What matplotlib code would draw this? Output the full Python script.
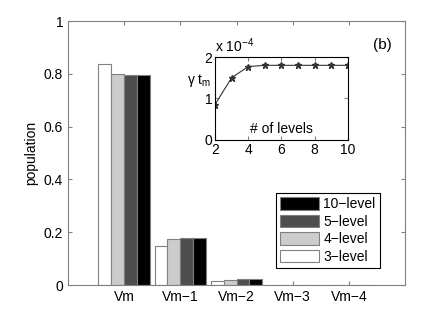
import matplotlib
matplotlib.use("Agg")
import matplotlib.pyplot as plt
import numpy as np

plt.rcParams['font.family'] = ['Liberation Sans', 'DejaVu Sans']
plt.rcParams['mathtext.fontset'] = 'custom'
plt.rcParams['mathtext.rm'] = 'Liberation Sans'
plt.rcParams['mathtext.it'] = 'Liberation Sans'

categories = ['Vm', 'Vm\u22121', 'Vm\u22122', 'Vm\u22123', 'Vm\u22124']
series_names = ['3-level', '4-level', '5-level', '10-level']
pop_3 = [0.836, 0.148, 0.015, 0.001, 0.0]
pop_4 = [0.800, 0.175, 0.020, 0.002, 0.0]
pop_5 = [0.797, 0.178, 0.022, 0.002, 0.0]
pop_10 = [0.797, 0.178, 0.022, 0.002, 0.0]
series_colors = ['white', '#cccccc', '#4d4d4d', 'black']

inset_levels = [2, 3, 4, 5, 6, 7, 8, 9, 10]
inset_gamma_tm = [0.85, 1.50, 1.77, 1.80, 1.80, 1.80, 1.80, 1.80, 1.80]

fig = plt.figure(figsize=(4.36, 3.24), dpi=100)
ax = fig.add_axes([0.156, 0.120, 0.773, 0.815])

x = np.arange(1, len(categories) + 1)
bw = 0.23
data = [pop_3, pop_4, pop_5, pop_10]
bars = []
for i, (vals, col, name) in enumerate(zip(data, series_colors, series_names)):
    b = ax.bar(x + (i - 1.5) * bw, vals, width=bw, color=col,
               edgecolor='#808080', linewidth=0.8, label=name)
    bars.append(b)

ax.set_xlim(0, 6)
ax.set_ylim(0, 1)
ax.set_xticks(x)
ax.set_xticklabels(categories)
ax.set_yticks([0, 0.2, 0.4, 0.6, 0.8, 1])
ax.set_yticklabels(['0', '0.2', '0.4', '0.6', '0.8', '1'])
ax.set_ylabel('population', fontsize=10)
ax.tick_params(direction='in', top=True, right=True, labelsize=10, length=3,
               color='#808080')
for s in ax.spines.values():
    s.set_color('#808080')

handles = [bars[3], bars[2], bars[1], bars[0]]
labels = ['10\u2212level', '5\u2212level', '4\u2212level', '3\u2212level']
leg = ax.legend(handles, labels, loc='lower right',
                bbox_to_anchor=(0.925, 0.065), fontsize=10, fancybox=False,
                framealpha=1, edgecolor='black', handlelength=2.8,
                handleheight=1.0, borderpad=0.3, labelspacing=0.25,
                handletextpad=0.3, borderaxespad=0)
leg.get_frame().set_linewidth(0.8)

ax.text(0.96, 0.91, '(b)', transform=ax.transAxes, ha='right', va='center',
        fontsize=11)

ins = fig.add_axes([0.493, 0.568, 0.305, 0.256])
ins.plot(inset_levels, inset_gamma_tm, '-', color='#333333', lw=0.8,
         marker='*', markersize=5, markeredgecolor='#333333')
ins.set_xlim(2, 10)
ins.set_ylim(0, 2)
ins.set_xticks([2, 4, 6, 8, 10])
ins.set_yticks([0, 1, 2])
ins.tick_params(direction='in', top=True, right=True, labelsize=10, length=3,
                pad=2, color='#808080')
for s in ins.spines.values():
    s.set_color('black')
ins.text(0.5, 0.05, '# of levels', transform=ins.transAxes, ha='center',
         va='bottom', fontsize=10)
ins.text(0.0, 1.03, 'x 10$^{\u22124}$', transform=ins.transAxes,
         ha='left', va='bottom', fontsize=10)
ins.text(-0.21, 0.72, '$\\gamma\\;$t$_{\\rm m}$', transform=ins.transAxes,
         ha='left', va='center', fontsize=10)

fig.savefig('out.png', dpi=100)
